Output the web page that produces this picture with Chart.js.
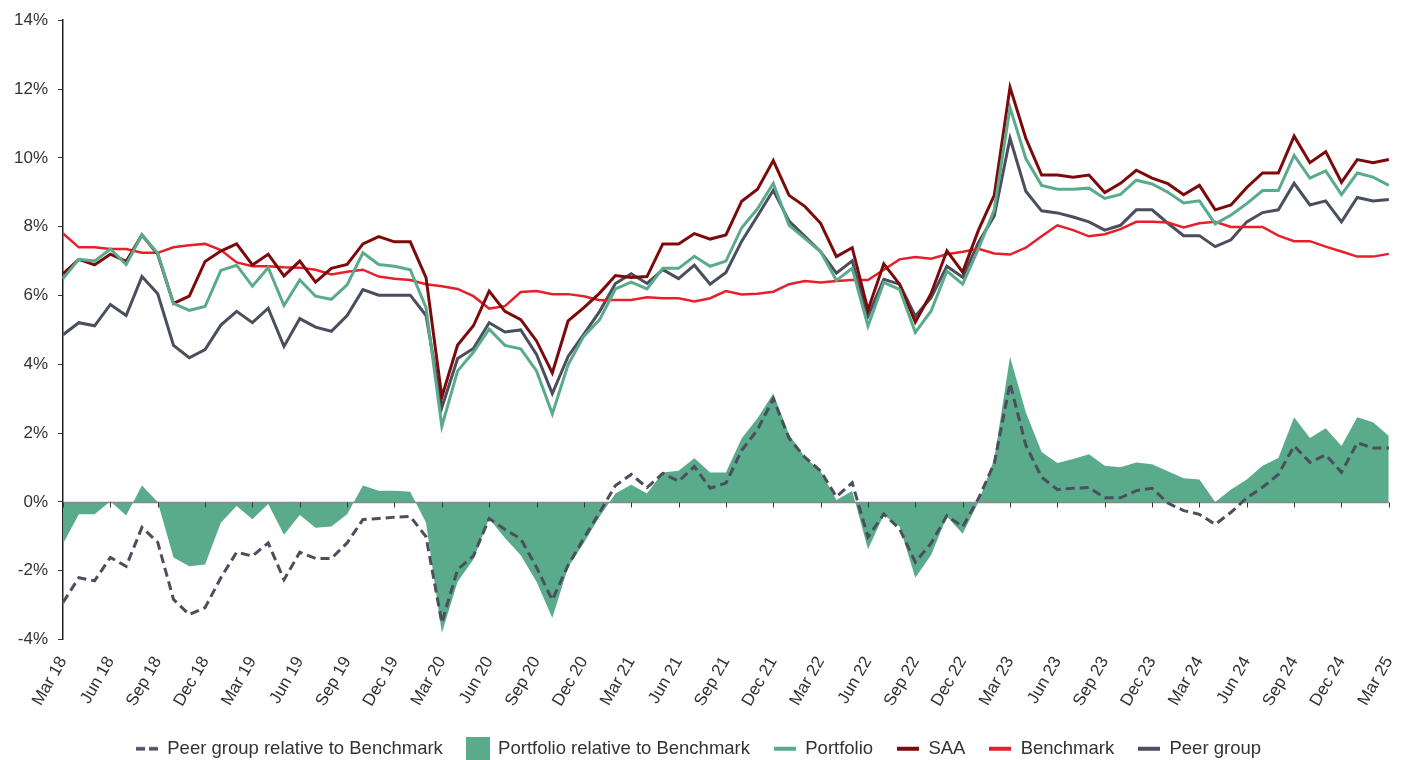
<!DOCTYPE html>
<html>
<head>
<meta charset="utf-8">
<script src="https://cdn.jsdelivr.net/npm/chart.js@4.4.1/dist/chart.umd.min.js"></script>
<style>
  body { margin: 0; background: #fff; }
  #wrap { width: 1412px; height: 760px; }
</style>
</head>
<body>
<div id="wrap"><canvas id="chart"></canvas></div>
<script>
// month labels, Mar 18 .. Mar 25
const months = [
  'Mar 18','Apr 18','May 18','Jun 18','Jul 18','Aug 18','Sep 18','Oct 18','Nov 18','Dec 18',
  'Jan 19','Feb 19','Mar 19','Apr 19','May 19','Jun 19','Jul 19','Aug 19','Sep 19','Oct 19','Nov 19','Dec 19',
  'Jan 20','Feb 20','Mar 20','Apr 20','May 20','Jun 20','Jul 20','Aug 20','Sep 20','Oct 20','Nov 20','Dec 20',
  'Jan 21','Feb 21','Mar 21','Apr 21','May 21','Jun 21','Jul 21','Aug 21','Sep 21','Oct 21','Nov 21','Dec 21',
  'Jan 22','Feb 22','Mar 22','Apr 22','May 22','Jun 22','Jul 22','Aug 22','Sep 22','Oct 22','Nov 22','Dec 22',
  'Jan 23','Feb 23','Mar 23','Apr 23','May 23','Jun 23','Jul 23','Aug 23','Sep 23','Oct 23','Nov 23','Dec 23',
  'Jan 24','Feb 24','Mar 24','Apr 24','May 24','Jun 24','Jul 24','Aug 24','Sep 24','Oct 24','Nov 24','Dec 24',
  'Jan 25','Feb 25','Mar 25'
];

// rolling returns, % p.a.
const portfolio = [
  6.49, 7.05, 7.00, 7.35, 6.90, 7.76, 7.23, 5.77, 5.57, 5.68,
  6.73, 6.88, 6.27, 6.81, 5.71, 6.45, 5.98, 5.89, 6.31, 7.24, 6.90, 6.85,
  6.75, 5.65, 2.20, 3.81, 4.35, 5.02, 4.55, 4.45, 3.81, 2.56, 3.99, 4.82,
  5.30, 6.19, 6.39, 6.19, 6.79, 6.79, 7.14, 6.85, 7.00, 7.97, 8.52, 9.26,
  8.04, 7.66, 7.27, 6.44, 6.79, 5.11, 6.38, 6.18, 4.93, 5.55, 6.71, 6.33,
  7.36, 8.49, 11.46, 9.98, 9.20, 9.09, 9.09, 9.12, 8.82, 8.94, 9.35, 9.24,
  9.00, 8.69, 8.75, 8.08, 8.34, 8.67, 9.05, 9.05, 10.07, 9.41, 9.62, 8.93,
  9.56, 9.44, 9.20
];
const saa = [
  6.63, 7.05, 6.89, 7.20, 6.99, 7.76, 7.20, 5.77, 5.98, 6.99,
  7.29, 7.50, 6.89, 7.20, 6.57, 7.00, 6.39, 6.79, 6.90, 7.50, 7.71, 7.56,
  7.56, 6.52, 3.05, 4.56, 5.12, 6.13, 5.54, 5.30, 4.68, 3.75, 5.26, 5.65,
  6.07, 6.58, 6.52, 6.55, 7.50, 7.50, 7.80, 7.64, 7.76, 8.74, 9.09, 9.92,
  8.91, 8.59, 8.10, 7.13, 7.39, 5.58, 6.92, 6.33, 5.23, 6.06, 7.30, 6.68,
  7.90, 8.91, 12.05, 10.57, 9.50, 9.50, 9.44, 9.50, 8.99, 9.26, 9.64, 9.41,
  9.25, 8.93, 9.20, 8.49, 8.63, 9.14, 9.56, 9.56, 10.63, 9.86, 10.18, 9.29,
  9.95, 9.86, 9.95
];
const benchmark = [
  7.80, 7.40, 7.40, 7.35, 7.35, 7.24, 7.24, 7.40, 7.46, 7.50,
  7.32, 6.96, 6.85, 6.85, 6.82, 6.81, 6.75, 6.61, 6.69, 6.75, 6.55, 6.49,
  6.45, 6.33, 6.27, 6.19, 5.98, 5.62, 5.69, 6.10, 6.13, 6.04, 6.04, 5.98,
  5.86, 5.87, 5.87, 5.95, 5.92, 5.92, 5.83, 5.92, 6.13, 6.03, 6.05, 6.11,
  6.33, 6.42, 6.38, 6.42, 6.45, 6.45, 6.75, 7.05, 7.12, 7.07, 7.20, 7.27,
  7.36, 7.22, 7.19, 7.39, 7.72, 8.04, 7.90, 7.72, 7.78, 7.93, 8.14, 8.14,
  8.12, 7.98, 8.10, 8.14, 7.99, 7.99, 7.99, 7.74, 7.58, 7.58, 7.42, 7.28,
  7.13, 7.13, 7.21
];
const peerGroup = [
  4.86, 5.21, 5.12, 5.74, 5.42, 6.55, 6.05, 4.55, 4.19, 4.43,
  5.14, 5.54, 5.21, 5.63, 4.52, 5.33, 5.08, 4.96, 5.42, 6.17, 6.01, 6.01,
  6.01, 5.42, 2.74, 4.17, 4.46, 5.21, 4.94, 5.00, 4.29, 3.15, 4.23, 4.88,
  5.54, 6.35, 6.63, 6.35, 6.75, 6.49, 6.88, 6.33, 6.67, 7.58, 8.31, 9.06,
  8.16, 7.72, 7.27, 6.65, 7.01, 5.40, 6.47, 6.33, 5.40, 5.94, 6.85, 6.53,
  7.54, 8.31, 10.57, 9.03, 8.46, 8.40, 8.28, 8.14, 7.90, 8.04, 8.49, 8.49,
  8.10, 7.74, 7.74, 7.42, 7.62, 8.14, 8.41, 8.49, 9.26, 8.63, 8.75, 8.14,
  8.85, 8.75, 8.79
];
const portfolioRel = [
  -1.21, -0.36, -0.36, 0.02, -0.39, 0.48, 0.00, -1.61, -1.87, -1.82,
  -0.60, -0.12, -0.50, -0.06, -0.95, -0.38, -0.75, -0.71, -0.36, 0.48, 0.33, 0.33,
  0.30, -0.60, -3.81, -2.32, -1.67, -0.48, -1.05, -1.55, -2.32, -3.37, -1.90, -1.19,
  -0.42, 0.25, 0.50, 0.25, 0.86, 0.91, 1.27, 0.86, 0.86, 1.85, 2.43, 3.15,
  1.96, 1.31, 0.89, 0.06, 0.32, -1.37, -0.38, -0.71, -2.20, -1.54, -0.42, -0.92,
  0.00, 1.25, 4.22, 2.61, 1.45, 1.13, 1.25, 1.39, 1.05, 1.01, 1.15, 1.10,
  0.89, 0.69, 0.65, 0.00, 0.36, 0.65, 1.05, 1.28, 2.46, 1.86, 2.14, 1.63,
  2.46, 2.32, 1.92
];
const peerRel = [
  -2.92, -2.20, -2.29, -1.61, -1.87, -0.74, -1.17, -2.83, -3.27, -3.07,
  -2.20, -1.46, -1.57, -1.19, -2.26, -1.46, -1.64, -1.64, -1.19, -0.51, -0.48, -0.44,
  -0.42, -1.01, -3.51, -1.96, -1.57, -0.48, -0.80, -1.07, -1.90, -2.85, -1.84, -1.05,
  -0.30, 0.48, 0.80, 0.42, 0.83, 0.60, 1.03, 0.40, 0.55, 1.50, 2.10, 3.00,
  1.85, 1.30, 0.90, 0.15, 0.56, -1.02, -0.35, -0.78, -1.75, -1.20, -0.40, -0.72,
  0.10, 1.12, 3.45, 1.65, 0.72, 0.36, 0.40, 0.42, 0.12, 0.12, 0.33, 0.40,
  -0.03, -0.25, -0.36, -0.65, -0.30, 0.12, 0.43, 0.80, 1.63, 1.15, 1.37, 0.86,
  1.72, 1.57, 1.57
];

const GREEN = '#5aab8b', DARKRED = '#7d0a0a', RED = '#e5202b', SLATE = '#4a4e5d';

Chart.defaults.font.family = "'Liberation Sans', Arial, sans-serif";
Chart.defaults.color = '#333';

// small canvases used as legend symbols
function legendIcon(w, h, draw) {
    const c = document.createElement('canvas');
    c.width = w; c.height = h;
    draw(c.getContext('2d'));
    return c;
}
const iconDash = legendIcon(22, 8, g => {
    g.strokeStyle = SLATE; g.lineWidth = 3.5;
    g.beginPath(); g.moveTo(0, 4); g.lineTo(9, 4); g.moveTo(13, 4); g.lineTo(22, 4); g.stroke();
});
const iconBox = legendIcon(24, 24, g => { g.fillStyle = GREEN; g.fillRect(0, 0, 24, 24); });
const iconLine = col => legendIcon(22, 8, g => {
    g.strokeStyle = col; g.lineWidth = 4;
    g.beginPath(); g.moveTo(0, 4); g.lineTo(22, 4); g.stroke();
});

// zero line + quarter tick marks, drawn right after the relative area
const zeroAxis = {
    id: 'zeroAxis',
    afterDatasetDraw(chart, args) {
        if (args.index !== 1) return;
        const ctx = chart.ctx, xs = chart.scales.x, area = chart.chartArea;
        const y0 = Math.round(chart.scales.y.getPixelForValue(0)) + 0.5;
        ctx.save();
        ctx.strokeStyle = '#888';
        ctx.lineWidth = 1.3;
        ctx.beginPath();
        ctx.moveTo(area.left, y0); ctx.lineTo(area.right, y0);
        ctx.stroke();
        ctx.strokeStyle = '#333';
        ctx.lineWidth = 1;
        ctx.beginPath();
        months.forEach((m, i) => {
            if (i % 3 === 0) {
                const px = Math.round(xs.getPixelForValue(i)) + 0.5;
                ctx.moveTo(px, y0); ctx.lineTo(px, y0 + 5);
            }
        });
        ctx.stroke();
        ctx.restore();
    }
};

const lineDefaults = { pointRadius: 0, pointHoverRadius: 0, tension: 0, fill: false };

new Chart(document.getElementById('chart'), {
    type: 'line',
    plugins: [zeroAxis],
    data: {
        labels: months,
        datasets: [
            Object.assign({ label: 'Peer group relative to Benchmark', data: peerRel, borderColor: SLATE,
                borderWidth: 3, borderDash: [9, 5], pointStyle: iconDash }, lineDefaults),
            { label: 'Portfolio relative to Benchmark', data: portfolioRel, borderWidth: 0,
              borderColor: GREEN, backgroundColor: GREEN, fill: 'origin', pointRadius: 0, tension: 0, pointStyle: iconBox },
            Object.assign({ label: 'Portfolio', data: portfolio, borderColor: GREEN, borderWidth: 3, pointStyle: iconLine(GREEN) }, lineDefaults),
            Object.assign({ label: 'SAA', data: saa, borderColor: DARKRED, borderWidth: 3, pointStyle: iconLine(DARKRED) }, lineDefaults),
            Object.assign({ label: 'Benchmark', data: benchmark, borderColor: RED, borderWidth: 2.5, pointStyle: iconLine(RED) }, lineDefaults),
            Object.assign({ label: 'Peer group', data: peerGroup, borderColor: SLATE, borderWidth: 3, pointStyle: iconLine(SLATE) }, lineDefaults)
        ]
    },
    options: {
        responsive: true,
        maintainAspectRatio: false,
        animation: false,
        layout: { padding: { left: 4, right: 19, top: 17, bottom: -8 } },
        plugins: {
            legend: {
                position: 'bottom',
                labels: {
                    usePointStyle: true,
                    pointStyleWidth: 22,
                    padding: 24,
                    color: '#333',
                    font: { size: 18.5 }
                }
            },
            tooltip: { enabled: false }
        },
        scales: {
            x: {
                offset: false,
                grid: { display: false },
                border: { display: false },
                ticks: {
                    autoSkip: false,
                    maxRotation: 60,
                    minRotation: 60,
                    padding: 5.5,
                    font: { size: 17 },
                    color: '#333',
                    callback: function(val, idx) {
                        return idx % 3 === 0 ? months[idx] : '';
                    }
                }
            },
            y: {
                min: -4,
                max: 14,
                ticks: {
                    stepSize: 2,
                    padding: 10,
                    font: { size: 17 },
                    color: '#333',
                    callback: function(v) { return v + '%'; }
                },
                grid: { drawOnChartArea: false, drawTicks: true, tickLength: 5, tickColor: '#333' },
                border: { display: true, color: '#222', width: 1.5 }
            }
        }
    }
});
</script>
</body>
</html>
